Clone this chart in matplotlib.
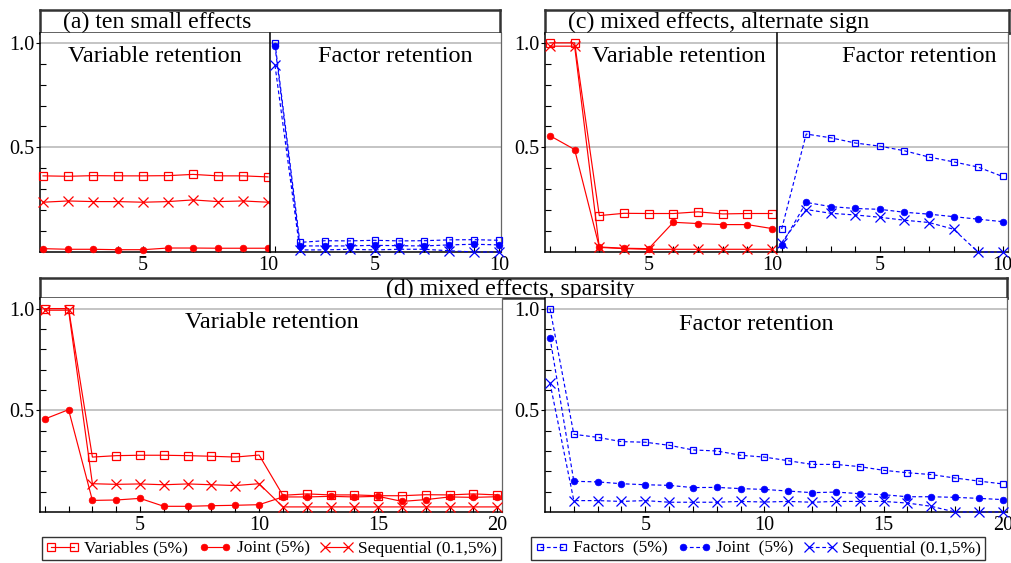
import numpy as np
import matplotlib
matplotlib.use('Agg')
import matplotlib.pyplot as plt
from matplotlib.lines import Line2D

plt.rcParams['font.family'] = ['Liberation Serif', 'DejaVu Serif']

# ─── data ────────────────────────────────────────────────────────────────
# (a) ten small effects
a_var_vars  = [0.364, 0.362, 0.365, 0.364, 0.364, 0.365, 0.371, 0.364, 0.364, 0.359]
a_var_joint = [0.016, 0.013, 0.013, 0.011, 0.011, 0.019, 0.019, 0.018, 0.018, 0.018]
a_var_seq   = [0.238, 0.244, 0.241, 0.241, 0.238, 0.241, 0.249, 0.241, 0.244, 0.238]
a_fac_fac   = [1.000, 0.046, 0.054, 0.053, 0.056, 0.053, 0.054, 0.058, 0.059, 0.056]
a_fac_joint = [0.984, 0.029, 0.029, 0.029, 0.032, 0.030, 0.029, 0.034, 0.037, 0.034]
a_fac_seq   = [0.893, 0.010, 0.010, 0.013, 0.010, 0.013, 0.013, 0.006, 0.000, 0.000]

# (c) mixed effects, alternate sign
c_var_vars  = [1.000, 1.000, 0.174, 0.185, 0.184, 0.184, 0.192, 0.182, 0.184, 0.184]
c_var_joint = [0.556, 0.490, 0.024, 0.018, 0.016, 0.142, 0.136, 0.131, 0.131, 0.112]
c_var_seq   = [0.984, 0.984, 0.022, 0.016, 0.013, 0.013, 0.013, 0.013, 0.013, 0.013]
c_fac_fac   = [0.110, 0.564, 0.546, 0.521, 0.506, 0.484, 0.454, 0.431, 0.406, 0.361]
c_fac_joint = [0.034, 0.237, 0.217, 0.208, 0.204, 0.190, 0.181, 0.169, 0.157, 0.145]
c_fac_seq   = [0.045, 0.203, 0.185, 0.177, 0.166, 0.152, 0.141, 0.109, 0.000, 0.000]

# (d) mixed effects, sparsity
d_var_vars  = [1.000, 1.000, 0.270, 0.277, 0.279, 0.279, 0.277, 0.274, 0.270, 0.280,
               0.082, 0.089, 0.084, 0.084, 0.080, 0.080, 0.085, 0.084, 0.089, 0.084]
d_var_joint = [0.457, 0.503, 0.057, 0.059, 0.067, 0.028, 0.028, 0.031, 0.033, 0.036,
               0.074, 0.074, 0.077, 0.074, 0.077, 0.052, 0.061, 0.074, 0.072, 0.075]
d_var_seq   = [0.992, 0.992, 0.139, 0.136, 0.138, 0.134, 0.138, 0.134, 0.130, 0.139,
               0.025, 0.025, 0.025, 0.025, 0.025, 0.025, 0.025, 0.025, 0.025, 0.025]
d_fac_fac   = [1.000, 0.382, 0.367, 0.346, 0.343, 0.328, 0.305, 0.300, 0.279, 0.270,
               0.252, 0.234, 0.234, 0.223, 0.205, 0.193, 0.184, 0.167, 0.152, 0.138]
d_fac_joint = [0.857, 0.151, 0.148, 0.139, 0.134, 0.131, 0.120, 0.121, 0.115, 0.111,
               0.103, 0.095, 0.098, 0.090, 0.085, 0.075, 0.075, 0.072, 0.067, 0.061]
d_fac_seq   = [0.634, 0.056, 0.056, 0.052, 0.056, 0.048, 0.048, 0.048, 0.052, 0.049,
               0.052, 0.048, 0.052, 0.052, 0.052, 0.044, 0.028, 0.000, 0.000, 0.000]

var_labels = ['Variables (5%)', 'Joint (5%)', 'Sequential (0.1,5%)']
fac_labels = ['Factors  (5%)', 'Joint  (5%)', 'Sequential (0.1,5%)']

# ─── styles ──────────────────────────────────────────────────────────────
RED, BLUE = '#ff0000', '#0000ff'
GRID = '#b4b4b4'
FRAME = '#333333'
W, H = 1012, 563

fig = plt.figure(figsize=(W/100, H/100), dpi=100)

def px_axes(x0, y0, x1, y1):
    return fig.add_axes([x0/W, 1 - y1/H, (x1 - x0)/W, (y1 - y0)/H])

def title_box(x0, y0, x1, y1, text, tx, ha='left'):
    ax = px_axes(x0, y0, x1, y1)
    ax.set_xticks([]); ax.set_yticks([])
    for s in ax.spines.values():
        s.set_color(FRAME); s.set_linewidth(1.8)
    ax.text((tx - x0)/(x1 - x0), 0.45, text, transform=ax.transAxes,
            ha=ha, va='center', fontsize=17.2)
    return ax

def styles(color, dashed):
    ls = (0, (3.2, 2.2)) if dashed else '-'
    sq = 4.6 if dashed else 5.4
    return [dict(marker='s', ms=sq, mfc='none', mec=color, mew=0.9, color=color, lw=0.85, ls=ls),
            dict(marker='o', ms=4.8, mfc=color, mec=color, mew=0.5, color=color, lw=0.85, ls=ls),
            dict(marker='x', ms=6.5, mec=color, mew=0.9, color=color, lw=0.85, ls=ls)]

def panel(ax, series, color, dashed, n, ylim, xticks, ylab=True):
    x = np.arange(1, n + 1)
    for y, st in zip(series, styles(color, dashed)):
        ax.plot(x, y, clip_on=False, zorder=3, **st)
    ax.set_ylim(*ylim)
    ax.set_xticks(x)
    ax.set_xticklabels([str(v) if v in xticks else '' for v in x], fontsize=14.5)
    ax.tick_params(axis='x', direction='in', length=4, width=0.8, pad=3)
    for yv in (0.5, 1.0):
        ax.axhline(yv, color=GRID, lw=1.1, zorder=1)
    if ylab:
        ax.set_yticks([0.5, 1.0])
        ax.set_yticklabels(['0.5', '1.0'], fontsize=14.5)
        ax.set_yticks(np.arange(0.1, 1.0, 0.1), minor=True)
        ax.tick_params(axis='y', which='major', direction='out', length=3, width=0.8, pad=1)
        ax.tick_params(axis='y', which='minor', direction='in', length=4, width=0.8)
    else:
        ax.set_yticks([])
    ax.spines['left'].set_color('black'); ax.spines['left'].set_linewidth(1.1)
    ax.spines['bottom'].set_color('black'); ax.spines['bottom'].set_linewidth(1.1)
    ax.spines['top'].set_visible(False)
    ax.spines['right'].set_color('#666666'); ax.spines['right'].set_linewidth(0.9)

def label(ax, text, xpx, ypx, x0, y0, x1, y1):
    ax.text((xpx - x0)/(x1 - x0), 1 - (ypx - y0)/(y1 - y0), text, transform=ax.transAxes,
            ha='center', va='center', fontsize=17.5)

TOP_Y = (0, 1.047)
BOT_Y = (0, 1.052)

# ─── (a) ────────────────────────────────────────────────────────────────
title_box(40, 10, 500, 33, '(a) ten small effects', 63)
ax = px_axes(40, 33, 270, 252)
panel(ax, [a_var_vars, a_var_joint, a_var_seq], RED, False, 10, TOP_Y, [5, 10])
ax.set_xlim(0.88, 10.08)
label(ax, 'Variable retention', 155, 57, 40, 33, 270, 252)
ax = px_axes(270, 33, 501, 252)
panel(ax, [a_fac_fac, a_fac_joint, a_fac_seq], BLUE, True, 10, TOP_Y, [5, 10], ylab=False)
ax.set_xlim(0.8, 10.08)
label(ax, 'Factor retention', 395, 57, 270, 33, 501, 252)

# ─── (c) ────────────────────────────────────────────────────────────────
title_box(545, 10, 1009, 33, '(c) mixed effects, alternate sign', 568)
ax = px_axes(545, 33, 777, 252)
panel(ax, [c_var_vars, c_var_joint, c_var_seq], RED, False, 10, TOP_Y, [5, 10])
ax.set_xlim(0.8, 10.2)
label(ax, 'Variable retention', 679, 57, 545, 33, 777, 252)
ax = px_axes(777, 33, 1008, 252)
panel(ax, [c_fac_fac, c_fac_joint, c_fac_seq], BLUE, True, 10, TOP_Y, [5, 10], ylab=False)
ax.set_xlim(0.81, 10.22)
label(ax, 'Factor retention', 919, 57, 777, 33, 1008, 252)

# ─── (d) ────────────────────────────────────────────────────────────────
title_box(40, 278, 1007, 298, '(d) mixed effects, sparsity', 510, ha='center')
ax1 = px_axes(40, 298, 502, 512)
panel(ax1, [d_var_vars, d_var_joint, d_var_seq], RED, False, 20, BOT_Y, [5, 10, 15, 20])
ax1.set_xlim(0.8, 20.2)
label(ax1, 'Variable retention', 272, 323, 40, 298, 502, 512)
ax2 = px_axes(545, 298, 1007, 512)
panel(ax2, [d_fac_fac, d_fac_joint, d_fac_seq], BLUE, True, 20, BOT_Y, [5, 10, 15, 20])
ax2.set_xlim(0.79, 20.18)
label(ax2, 'Factor retention', 756, 324, 545, 298, 1007, 512)

# ─── legends ────────────────────────────────────────────────────────────
def legend(labels, color, dashed, x0, x1):
    hs = [Line2D([], [], **st) for st in styles(color, dashed)]
    lg = fig.legend(hs, labels, loc='center', ncol=3,
                    bbox_to_anchor=((x0 + x1)/2/W, 1 - 548.5/H),
                    fontsize=12.5, numpoints=2, handlelength=1.9, handletextpad=0.3,
                    columnspacing=0.6, borderpad=0.2, borderaxespad=0,
                    frameon=True, fancybox=False)
    lg.get_frame().set_edgecolor('black'); lg.get_frame().set_linewidth(1.0)
    return lg

legend(var_labels, RED, False, 44, 499)
legend(fac_labels, BLUE, True, 533, 983)

fig.savefig('out.png', dpi=100)
